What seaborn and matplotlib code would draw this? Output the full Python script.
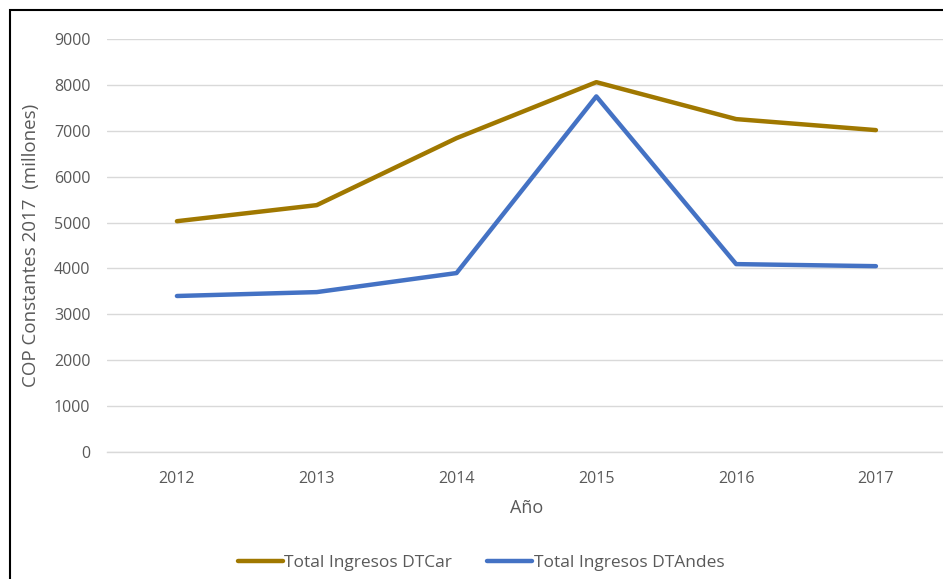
import pandas as pd
import seaborn as sns
import matplotlib.pyplot as plt
from matplotlib.patches import Rectangle

# Data
years = ["2012", "2013", "2014", "2015", "2016", "2017"]
dtcar = [5030, 5380, 6840, 8060, 7255, 7015]
dtandes = [3400, 3485, 3900, 7750, 4095, 4050]
series_names = ["Total Ingresos DTCar", "Total Ingresos DTAndes"]

df = pd.DataFrame({
    "Año": years * 2,
    "valor": dtcar + dtandes,
    "serie": [series_names[0]] * len(years) + [series_names[1]] * len(years),
})

sns.set_theme(style="white")
plt.rcParams["font.family"] = ["Open Sans", "DejaVu Sans"]
text_color = "#595959"

fig = plt.figure(figsize=(9.43, 5.79), dpi=100)
ax = fig.add_axes([0.1135, 0.2193, 0.8895, 0.7133])

sns.lineplot(data=df, x="Año", y="valor", hue="serie", sort=False,
             palette=["#A07800", "#4472C4"], linewidth=3.2, ax=ax)

ax.set_xlim(-0.5, 5.5)
ax.set_ylim(0, 9000)
ax.set_yticks(range(0, 9001, 1000))
ax.grid(axis="y", color="#D9D9D9", linewidth=1)
ax.set_axisbelow(True)
for s in ax.spines.values():
    s.set_visible(False)
ax.spines["bottom"].set_visible(True)
ax.spines["bottom"].set_color("#D9D9D9")
ax.spines["bottom"].set_linewidth(1)
ax.tick_params(axis="both", length=0, labelsize=11.5, colors=text_color)
ax.tick_params(axis="x", pad=14)
ax.tick_params(axis="y", pad=12)
ax.set_xlabel("Año", fontsize=13, color=text_color, labelpad=8)
ax.set_ylabel("COP Constantes 2017  (millones)", fontsize=13.5, color=text_color, labelpad=10)

handles, labels = ax.get_legend_handles_labels()
ax.get_legend().remove()
fig.legend(handles, labels, loc="center", bbox_to_anchor=(481 / 943, 1 - 563 / 579),
           ncol=2, frameon=False, fontsize=12.5, labelcolor=text_color,
           handlelength=2.6, handletextpad=0.1, columnspacing=2.0)

# outer chart border (partially cropped in the reference)
fig.patches.append(Rectangle((10 / 943, -0.2), 1.2, 1.2 - 10 / 579,
                             transform=fig.transFigure, fill=False,
                             edgecolor="black", linewidth=1.5, clip_on=False))

fig.savefig("out.png", dpi=100)
